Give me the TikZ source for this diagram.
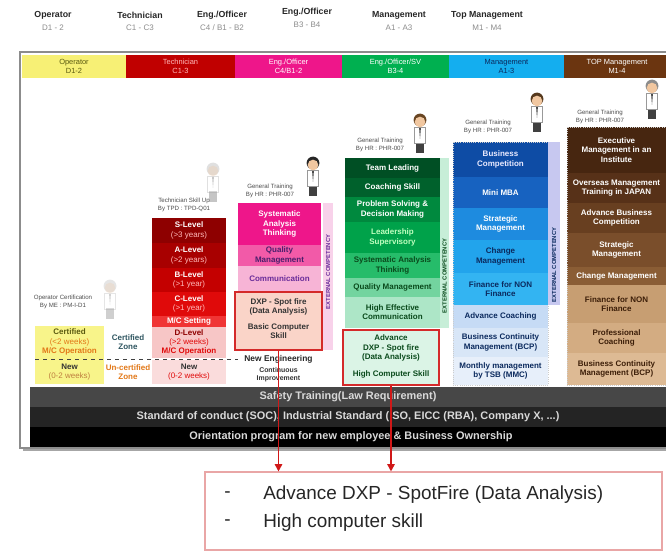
\documentclass[tikz,border=0pt]{standalone}
\usepackage{fontspec}
\setmainfont{Liberation Sans}
\usetikzlibrary{arrows.meta, positioning, calc, fit}

% header band
\definecolor{bandY}{HTML}{F7F075}
\definecolor{bandR}{HTML}{C00000}
\definecolor{bandP}{HTML}{EE168A}
\definecolor{bandG}{HTML}{00B050}
\definecolor{bandB}{HTML}{14AEEF}
\definecolor{bandK}{HTML}{6B3510}
% text colours
\definecolor{txtOlive}{HTML}{5A5A10}
\definecolor{txtOrange}{HTML}{E27818}
\definecolor{txtTeal}{HTML}{2E5560}
\definecolor{yrsPink}{HTML}{FFB8B8}
\definecolor{navyText}{HTML}{0B2A5E}
\definecolor{deepGreen}{HTML}{0A4A1C}
\definecolor{brnText}{HTML}{3C1E08}
\definecolor{violetText}{HTML}{6A2C9A}
% operator / technician
\definecolor{opYellow}{HTML}{F8F48A}
\definecolor{red1}{HTML}{8E0000}
\definecolor{red2}{HTML}{A80000}
\definecolor{red3}{HTML}{C40000}
\definecolor{red4}{HTML}{E00A0A}
\definecolor{red5}{HTML}{F03535}
\definecolor{red6}{HTML}{F7C6C6}
\definecolor{red7}{HTML}{FADCDC}
% engineer
\definecolor{pinkMid}{HTML}{F25AA8}
\definecolor{pinkLight}{HTML}{F7B4D6}
\definecolor{pinkStrip}{HTML}{F8D2EA}
\definecolor{peach}{HTML}{FAD4C8}
% management
\definecolor{blu1}{HTML}{0E4CA5}
\definecolor{blu2}{HTML}{1762C0}
\definecolor{blu3}{HTML}{1E8BDF}
\definecolor{blu4}{HTML}{22A4EC}
\definecolor{blu5}{HTML}{33B4F2}
\definecolor{blu6}{HTML}{C6DBF5}
\definecolor{blu7}{HTML}{D8E6F7}
\definecolor{blu8}{HTML}{E7EFFA}
\definecolor{bluStrip}{HTML}{C7C8F0}
% top management
\definecolor{brn1}{HTML}{472610}
\definecolor{brn2}{HTML}{573118}
\definecolor{brn3}{HTML}{683F20}
\definecolor{brn4}{HTML}{7A4E2B}
\definecolor{brn5}{HTML}{8A5D35}
\definecolor{brn6}{HTML}{C79E72}
\definecolor{brn7}{HTML}{D3AC82}
\definecolor{brn8}{HTML}{DDBA94}
% misc
\definecolor{focusRed}{HTML}{D42A2A}
\definecolor{arrowRed}{HTML}{D01818}
\definecolor{noteRed}{HTML}{E9A6A6}
\definecolor{skin}{HTML}{F1C7A0}

\tikzset{
  rank/.style={font=\bfseries\fontsize{6.6}{7}\selectfont, text=black!85, inner sep=0pt},
  grade/.style={font=\fontsize{6}{7}\selectfont, text=black!45, inner sep=0pt},
  band/.style={font=\fontsize{5.6}{6.4}\selectfont, align=center, inner sep=0pt},
  cell/.style={font=\bfseries\fontsize{6}{6.9}\selectfont, align=center, inner sep=0pt},
  owner/.style={font=\fontsize{4.6}{5.4}\selectfont, align=center, text=black!70, inner sep=0pt},
  strip/.style={font=\bfseries\fontsize{4.4}{5}\selectfont, rotate=90, inner sep=0pt},
  bar/.style={font=\bfseries\fontsize{8.2}{9}\selectfont, text=white!85!black, inner sep=0pt},
  focus/.style={draw=focusRed, line width=1.4pt, inner sep=0pt},
  note/.style={font=\fontsize{14.2}{16}\selectfont, text=black!85, inner sep=0pt},
  link/.style={-{Triangle[length=5.5pt,width=5.5pt]}, draw=arrowRed, line width=1.2pt},
}

% one level of a ladder: name, x1, y1, x2, y2, fill, text colour, text
\newcommand{\stage}[8]{%
  \fill[#6] (#2,#3) rectangle (#4,#5);
  \node[cell, text=#7] (#1) at ({(#2+#4)/2},{(#3+#5)/2}) {#8};}
\newcommand{\yrs}[1]{{\mdseries\color{yrsPink}#1}}
% small staff figure: x, top y, hair colour, opacity
\newcommand{\staff}[4]{%
  \begin{scope}[opacity=#4]
    \fill[black!75] (#1-4,#2+28) rectangle (#1+4,#2+39);
    \filldraw[draw=black!40, fill=white, line width=0.3pt] (#1-5.5,#2+13) rectangle (#1+5.5,#2+29);
    \fill[black!70] (#1-0.9,#2+14) -- (#1+0.9,#2+14) -- (#1,#2+25) -- cycle;
    \fill[#3] (#1,#2+6) circle[radius=4.8pt];
    \fill[skin] (#1,#2+8) circle[radius=4pt];
  \end{scope}}

\begin{document}
\begin{tikzpicture}[x=0.75pt, y=-0.75pt]
\useasboundingbox (0,0) rectangle (666,552);

% job grades on top
\foreach \x/\y/\r/\g [count=\i] in {53/15/Operator/{D1 - 2}, 140/15/Technician/{C1 - C3},
    222/15/{Eng./Officer}/{C4 / B1 - B2}, 307/12/{Eng./Officer}/{B3 - B4},
    399/15/Management/{A1 - A3}, 487/15/{Top Management}/{M1 - M4}}{
  \node[rank] (rank\i) at (\x,\y) {\r};
  \node[grade] (grade\i) at (\x,\y+13) {\g};
}

% frame with shadow
\fill[black!35] (23,55) rectangle (672,451);
\filldraw[fill=white, draw=black!45, line width=1pt] (20,52) rectangle (672,448);

% coloured band
\foreach \a/\b/\c/\t/\s [count=\i] in {22/126/bandY/txtOlive/{Operator\\D1-2},
    126/235/bandR/yrsPink/{Technician\\C1-3}, 235/342/bandP/white/{Eng./Officer\\C4/B1-2},
    342/449/bandG/white/{Eng./Officer/SV\\B3-4}, 449/564/bandB/navyText/{Management\\A1-3},
    564/670/bandK/white/{TOP Management\\M1-4}}{
  \fill[\c] (\a,55) rectangle (\b,78);
  \node[band, text=\t] (band\i) at ({(\a+\b)/2},66.5) {\s};
}

% staff figures
\staff{110}{280}{black!40}{0.25}
\staff{213}{163}{black!40}{0.3}
\staff{313}{157}{black!85}{1}
\staff{420}{114}{brown!55!black}{1}
\staff{537}{93}{brown!45!black}{1}
\staff{652}{80}{black!45}{1}

% Operator
\fill[opYellow] (35,326) rectangle (104,384);
\node[cell, text=txtOlive] (cert) at (69.5,342) {Certified\\{\mdseries\color{txtOrange}(<2 weeks)}\\{\color{txtOrange}M/C Operation}};
\node[cell, text=black!80] (opNew) at (69.5,372) {New\\{\mdseries\color{brown}(0-2 weeks)}};
\node[owner] (opCert) at (63,302) {Operator Certification\\By ME : PM-I-D1};
\node[cell, text=txtTeal] (certZone) at (128,342) {Certified\\Zone};
\node[cell, text=txtOrange] (uncertZone) at (128,372) {Un-certified\\Zone};

% Technician
\stage{sLvl}{152}{218}{226}{243}{red1}{white}{S-Level\\\yrs{(>3 years)}}
\stage{aLvl}{152}{243}{226}{268}{red2}{white}{A-Level\\\yrs{(>2 years)}}
\stage{bLvl}{152}{268}{226}{292}{red3}{white}{B-Level\\\yrs{(>1 year)}}
\stage{cLvl}{152}{292}{226}{316}{red4}{white}{C-Level\\\yrs{(>1 year)}}
\stage{mcSet}{152}{316}{226}{327}{red5}{white}{M/C Setting}
\stage{dLvl}{152}{327}{226}{358}{red6}{red1}{D-Level\\{\mdseries\color{red4}(>2 weeks)}\\{\color{red4}M/C Operation}}
\stage{techNew}{152}{360}{226}{384}{red7}{black!80}{New\\{\mdseries\color{red4}(0-2 weeks)}}
\node[owner] (techUp) at (184,205) {Technician Skill Up\\By TPD : TPD-Q01};

\draw[dashed, black!75, line width=0.5pt] (35,359) -- (238,359);

% Engineer / Officer
\stage{sat}{238}{203}{321}{245}{bandP}{white}{Systematic\\Analysis\\Thinking}
\stage{qualP}{238}{245}{321}{266}{pinkMid}{violetText!70!black}{Quality\\Management}
\stage{commP}{238}{266}{321}{291}{pinkLight}{violetText}{Communication}
\fill[pinkStrip] (323,203) rectangle (333,350);
\node[strip, text=violetText] (extP) at (328,272) {EXTERNAL COMPETENCY};
\node[focus, fill=peach, fit={(235,292) (322,350)}] (pinkFocus) {};
\node[cell, text=black!80] (dxpP) at (278.5,307) {DXP - Spot fire\\(Data Analysis)};
\node[cell, text=black!80] (pcP) at (278.5,331) {Basic Computer\\Skill};
\node[cell, text=black!85, font=\bfseries\fontsize{6.3}{7}\selectfont] (newEng) at (278.5,359) {New Engineering};
\node[cell, text=black!80, font=\bfseries\fontsize{5.2}{6.2}\selectfont] (kaizen) at (278.5,375) {Continuous\\Improvement};
\node[owner] (genP) at (270,191) {General Training\\By HR : PHR-007};

% Engineer / Officer / SV
\stage{team}{345}{158}{440}{178}{bandG!45!black}{white}{Team Leading}
\stage{coach}{345}{178}{440}{197}{bandG!55!black}{white}{Coaching Skill}
\stage{probSolve}{345}{197}{440}{222}{bandG!78!black}{white}{Problem Solving \&\\Decision Making}
\stage{leader}{345}{222}{440}{253}{bandG!92!black}{green!25!white}{Leadership\\Supervisory}
\stage{sysThink}{345}{253}{440}{278}{bandG!85!white}{deepGreen}{Systematic Analysis\\Thinking}
\stage{qualG}{345}{278}{440}{297}{bandG!55}{deepGreen}{Quality Management}
\stage{hiComm}{345}{297}{440}{328}{bandG!32}{deepGreen}{High Effective\\Communication}
\fill[bandG!22] (440,158) rectangle (449,328);
\node[strip, text=deepGreen] (extG) at (444.5,276) {EXTERNAL COMPETENCY};
\node[focus, fill=bandG!14, fit={(343,330) (439,385)}] (greenFocus) {};
\node[cell, text=deepGreen] (dxpG) at (391,348) {Advance\\DXP - Spot fire\\(Data Analysis)};
\node[cell, text=deepGreen] (pcG) at (391,374) {High Computer Skill};
\node[owner] (genG) at (380,145) {General Training\\By HR : PHR-007};

% Management
\stage{bizComp}{453}{142}{548}{177}{blu1}{blue!8!white}{Business\\Competition}
\stage{miniMba}{453}{177}{548}{208}{blu2}{white}{Mini MBA}
\stage{stratB}{453}{208}{548}{240}{blu3}{white}{Strategic\\Management}
\stage{changeB}{453}{240}{548}{273}{blu4}{navyText}{Change\\Management}
\stage{finB}{453}{273}{548}{305}{blu5}{navyText}{Finance for NON\\Finance}
\stage{coachB}{453}{305}{548}{328}{blu6}{navyText}{Advance Coaching}
\stage{bcpB}{453}{328}{548}{357}{blu7}{navyText}{Business Continuity\\Management (BCP)}
\stage{mmcB}{453}{357}{548}{385}{blu8}{navyText}{Monthly management\\by TSB (MMC)}
\draw[white!60!gray, densely dotted, line width=0.6pt] (453,142) rectangle (548,385);
\fill[bluStrip] (548,142) rectangle (560,305);
\node[strip, text=navyText] (extB) at (554,265) {EXTERNAL COMPETENCY};
\node[owner] (genB) at (488,127) {General Training\\By HR : PHR-007};

% Top Management
\stage{exec}{567}{127}{666}{173}{brn1}{white}{Executive\\Management in an\\Institute}
\stage{overseas}{567}{173}{666}{203}{brn2}{white}{Overseas Management\\Training in JAPAN}
\stage{advBiz}{567}{203}{666}{233}{brn3}{white}{Advance Business\\Competition}
\stage{stratK}{567}{233}{666}{267}{brn4}{white}{Strategic\\Management}
\stage{changeK}{567}{267}{666}{285}{brn5}{white}{Change Management}
\stage{finK}{567}{285}{666}{323}{brn6}{brnText}{Finance for NON\\Finance}
\stage{proCoach}{567}{323}{666}{353}{brn7}{brnText}{Professional\\Coaching}
\stage{bcpK}{567}{353}{666}{385}{brn8}{brnText}{Business Continuity\\Management (BCP)}
\draw[white!60!gray, densely dotted, line width=0.6pt] (567,127) rectangle (666,385);
\node[owner] (genK) at (600,117) {General Training\\By HR : PHR-007};

% foundation bars
\fill[black!72] (30,387) rectangle (672,407);
\fill[black!86] (30,407) rectangle (672,427);
\fill[black] (30,427) rectangle (672,447);
\node[bar] (safety) at (348,397) {Safety Training(Law Requirement)};
\node[bar] (conduct) at (348,417) {Standard of conduct (SOC), Industrial Standard (ISO, EICC (RBA), Company X, ...)};
\node[bar] (orient) at (351,437) {Orientation program for new employee \& Business Ownership};

% required skills
\node[draw=noteRed, line width=0.8pt, fill=white, fit={(205,472) (662,550)}, inner sep=0pt] (skills) {};
\node[note, anchor=west] (dashA) at (224,495) {-};
\node[note, anchor=west] (itemA) at (263,495) {Advance DXP - SpotFire (Data Analysis)};
\node[note, anchor=west] (dashB) at (224,523) {-};
\node[note, anchor=west] (itemB) at (263,523) {High computer skill};

\draw[link] (pinkFocus.south) -- (pinkFocus.south |- skills.north);
\draw[link] (greenFocus.south) -- (greenFocus.south |- skills.north);
\end{tikzpicture}
\end{document}
